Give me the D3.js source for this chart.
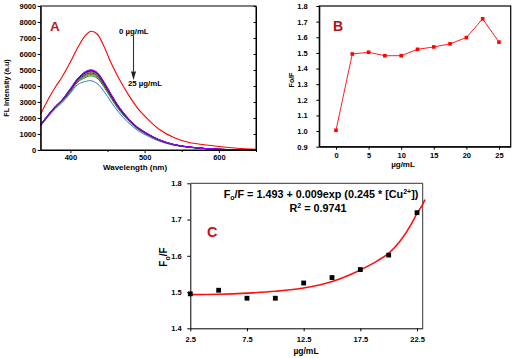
<!DOCTYPE html>
<html>
<head>
<meta charset="utf-8">
<script src="https://cdn.jsdelivr.net/npm/d3@7"></script>
<style>
  html, body { margin: 0; padding: 0; background: #fff; }
  svg { display: block; }
  text { font-family: "Liberation Sans", Arial, sans-serif; font-weight: bold; fill: #000; }
</style>
</head>
<body>
<svg id="chart" width="519" height="358"></svg>
<script>
// ---------- Panel A data : fluorescence spectra ----------
const wavelengths = [360, 370, 380, 388, 400, 410, 420, 428, 436, 445, 455, 465, 477, 490, 505, 520, 540, 560, 580, 600, 625, 650];
const fl0    = [2250, 3150, 3950, 4500, 5500, 6400, 7150, 7420, 7250, 6500, 5420, 4500, 3540, 2650, 1900, 1280, 760, 470, 330, 220, 110, 40];
const fl2_5  = [1590, 2187, 2734, 3081, 3810, 4453, 4846, 4964, 4807, 4236, 3448, 2709, 2019, 1428, 985, 630, 335, 187, 99, 44, 20, 8];
const fl5    = [1586, 2180, 2725, 3072, 3792, 4432, 4812, 4929, 4773, 4205, 3423, 2690, 2005, 1418, 978, 626, 333, 186, 98, 44, 20, 8];
const fl7_5  = [1595, 2193, 2742, 3091, 3831, 4478, 4886, 5005, 4846, 4270, 3476, 2731, 2036, 1440, 993, 636, 338, 189, 99, 45, 20, 8];
const fl10   = [1605, 2205, 2752, 3098, 3840, 4482, 4889, 5007, 4850, 4268, 3470, 2725, 2030, 1436, 990, 634, 337, 188, 99, 45, 20, 8];
const fl12_5 = [1579, 2171, 2714, 3060, 3761, 4397, 4758, 4874, 4719, 4158, 3385, 2659, 1982, 1402, 967, 619, 329, 184, 97, 44, 19, 8];
const fl15   = [1571, 2161, 2701, 3045, 3731, 4361, 4704, 4818, 4665, 4111, 3346, 2629, 1960, 1386, 956, 612, 325, 182, 96, 43, 19, 8];
const fl17_5 = [1563, 2149, 2687, 3029, 3692, 4316, 4635, 4748, 4597, 4051, 3297, 2591, 1931, 1366, 942, 603, 320, 179, 94, 42, 19, 8];
const fl20   = [1549, 2130, 2662, 3001, 3634, 4248, 4526, 4637, 4490, 3956, 3220, 2530, 1886, 1334, 920, 589, 313, 175, 92, 41, 18, 7];
const fl22_5 = [1507, 2072, 2591, 2920, 3550, 4100, 4280, 4330, 4150, 3681, 2996, 2354, 1755, 1241, 856, 548, 291, 163, 86, 39, 17, 7];
const fl25   = [1560, 2145, 2681, 3023, 3681, 4302, 4610, 4722, 4573, 4029, 3280, 2577, 1921, 1359, 937, 600, 319, 178, 94, 42, 19, 7];
const spectraLabels = ["0", "2.5", "5", "7.5", "10", "12.5", "15", "17.5", "20", "22.5", "25"];
const spectraColors = ["#ff0000", "#000000", "#0000ff", "#ff00ff", "#8000ff", "#808000", "#000080", "#b8860b", "#008000", "#3a6fd8", "#008080"];
const spectraValues = [fl0, fl2_5, fl5, fl7_5, fl10, fl12_5, fl15, fl17_5, fl20, fl22_5, fl25];
const aYTicks = [0, 1000, 2000, 3000, 4000, 5000, 6000, 7000, 8000, 9000];
const aXTicks = [400, 500, 600];

// ---------- Panel B data : Fo/F vs concentration ----------
const bConc  = [0, 2.5, 5, 7.5, 10, 12.5, 15, 17.5, 20, 22.5, 25];
const bRatio = [1.005, 1.493, 1.504, 1.482, 1.482, 1.523, 1.538, 1.558, 1.598, 1.718, 1.569];
const bYTicks = [0.9, 1.0, 1.1, 1.2, 1.3, 1.4, 1.5, 1.6, 1.7, 1.8];
const bXTicks = [0, 5, 10, 15, 20, 25];

// ---------- Panel C data : exponential fit ----------
const cConc  = [2.5, 5, 7.5, 10, 12.5, 15, 17.5, 20, 22.5];
const cRatio = [1.495, 1.505, 1.483, 1.483, 1.525, 1.540, 1.562, 1.602, 1.719];
const cFitX  = [2.5, 5, 7.5, 10, 12.5, 15, 17.5, 19, 20, 21, 22, 22.5, 23, 23.2];
const cFitY  = [1.493, 1.494, 1.497, 1.502, 1.511, 1.529, 1.561, 1.586, 1.607, 1.640, 1.688, 1.717, 1.742, 1.755];
const cYTicks = [1.4, 1.5, 1.6, 1.7, 1.8];
const cXTicks = [2.5, 7.5, 12.5, 17.5, 22.5];

const svg = d3.select("#chart");
svg.append("rect").attr("width", 519).attr("height", 358).attr("fill", "#fff");

function styleAxis(g, size) {
  g.selectAll("path").attr("stroke", "#000").attr("stroke-width", 1);
  g.selectAll("line").attr("stroke", "#000").attr("stroke-width", 1);
  g.selectAll("text").attr("font-size", size).attr("font-family", "Liberation Sans, Arial, sans-serif").attr("font-weight", "bold");
}

// =================== Panel A ===================
const xA = d3.scaleLinear().domain([360, 650]).range([40.7, 256]);
const yA = d3.scaleLinear().domain([0, 9000]).range([150, 6]);
const gA = svg.append("g");

const lineA = d3.line().x((d, i) => xA(wavelengths[i])).y(d => yA(d)).curve(d3.curveCatmullRom.alpha(0.5));
const drawOrder = [9, 8, 10, 7, 6, 5, 2, 1, 3, 4, 0];
drawOrder.forEach(k => {
  gA.append("path").datum(spectraValues[k])
    .attr("d", lineA).attr("fill", "none")
    .attr("stroke", spectraColors[k]).attr("stroke-width", k === 0 ? 1.1 : 1);
});

// frame
gA.append("rect").attr("x", xA(360)).attr("y", yA(9000))
  .attr("width", xA(650) - xA(360)).attr("height", yA(0) - yA(9000))
  .attr("fill", "none").attr("stroke", "#000").attr("stroke-width", 1);

const axAL = gA.append("g").attr("transform", `translate(${xA(360)},0)`)
  .call(d3.axisLeft(yA).tickValues(aYTicks).tickFormat(d3.format("d")).tickSize(3).tickPadding(1.5).tickSizeOuter(0));
styleAxis(axAL, 7.5);
const axAR = gA.append("g").attr("transform", `translate(${xA(650)},0)`)
  .call(d3.axisLeft(yA).tickValues(aYTicks).tickSize(2.5).tickFormat("").tickSizeOuter(0));
styleAxis(axAR, 7.5);
const axAB = gA.append("g").attr("transform", `translate(0,${yA(0)})`)
  .call(d3.axisBottom(xA).tickValues(aXTicks).tickFormat(d3.format("d")).tickSize(3).tickPadding(2).tickSizeOuter(0));
styleAxis(axAB, 7.5);
const axABm = gA.append("g").attr("transform", `translate(0,${yA(0)})`)
  .call(d3.axisBottom(xA).tickValues([450, 550, 650]).tickSize(2).tickFormat("").tickSizeOuter(0));
styleAxis(axABm, 7.5);

gA.append("text").attr("x", 135).attr("y", 169.5).attr("text-anchor", "middle")
  .attr("font-size", 8).text("Wavelength (nm)");
gA.append("text").attr("transform", "translate(9,88) rotate(-90)").attr("text-anchor", "middle")
  .attr("font-size", 7.2).text("FL Intensity (a.u)");
gA.append("text").attr("x", 50).attr("y", 30.5).attr("font-size", 13.5)
  .style("fill", "#c0161b").text("A");

// annotation arrow
gA.append("text").attr("x", 119).attr("y", 34).attr("font-size", 7.8).text("0 µg/mL");
gA.append("line").attr("x1", xA(485)).attr("x2", xA(485)).attr("y1", yA(7150)).attr("y2", yA(4900))
  .attr("stroke", "#333").attr("stroke-width", 1.1);
gA.append("path")
  .attr("d", `M${xA(485) - 2.5},${yA(4900)} L${xA(485) + 2.5},${yA(4900)} L${xA(485)},${yA(4380)} Z`)
  .attr("fill", "#222");
gA.append("text").attr("x", 128).attr("y", 86).attr("font-size", 7.8).text("25 µg/mL");

// =================== Panel B ===================
const xB = d3.scaleLinear().domain([-2.56, 26.8]).range([319.3, 510.7]);
const yB = d3.scaleLinear().domain([0.9, 1.8]).range([146.7, 6]);
const gB = svg.append("g");

gB.append("rect").attr("x", xB.range()[0]).attr("y", yB(1.8))
  .attr("width", xB.range()[1] - xB.range()[0]).attr("height", yB(0.9) - yB(1.8))
  .attr("fill", "none").attr("stroke", "#000").attr("stroke-width", 1.2);

const axBL = gB.append("g").attr("transform", `translate(${xB.range()[0]},0)`)
  .call(d3.axisLeft(yB).tickValues(bYTicks).tickFormat(d3.format(".1f")).tickSize(3).tickPadding(8.5).tickSizeOuter(0));
styleAxis(axBL, 7.5);
const axBB = gB.append("g").attr("transform", `translate(0,${yB(0.9)})`)
  .call(d3.axisBottom(xB).tickValues(bXTicks).tickFormat(d3.format("d")).tickSize(3).tickPadding(3).tickSizeOuter(0));
styleAxis(axBB, 7.5);

const lineB = d3.line().x((d, i) => xB(bConc[i])).y(d => yB(d));
gB.append("path").datum(bRatio).attr("d", lineB).attr("fill", "none")
  .attr("stroke", "#ff2020").attr("stroke-width", 1);
gB.selectAll("rect.pt").data(bRatio).enter().append("rect").attr("class", "pt")
  .attr("x", (d, i) => xB(bConc[i]) - 1.8).attr("y", d => yB(d) - 1.8)
  .attr("width", 3.6).attr("height", 3.6).attr("fill", "#ff0000");

gB.append("text").attr("x", 403).attr("y", 166.5).attr("text-anchor", "middle")
  .attr("font-size", 8).text("µg/mL");
gB.append("text").attr("transform", "translate(294,80) rotate(-90)").attr("text-anchor", "middle")
  .attr("font-size", 7).text("Fo/F");
gB.append("text").attr("x", 333).attr("y", 30.5).attr("font-size", 14)
  .style("fill", "#b01010").text("B");

// =================== Panel C ===================
const xC = d3.scaleLinear().domain([2.5, 23]).range([190.3, 422.7]);
const yC = d3.scaleLinear().domain([1.4, 1.8]).range([328.3, 183.3]);
const gC = svg.append("g");

const axCL = gC.append("g").attr("transform", `translate(${xC(2.5)},0)`)
  .call(d3.axisLeft(yC).tickValues(cYTicks).tickFormat(d3.format(".1f")).tickSize(3).tickPadding(5.5).tickSizeOuter(0));
styleAxis(axCL, 7.5);
const axCB = gC.append("g").attr("transform", `translate(0,${yC(1.4)})`)
  .call(d3.axisBottom(xC).tickValues(cXTicks).tickFormat(d3.format(".1f")).tickSize(3).tickPadding(5.5).tickSizeOuter(0));
styleAxis(axCB, 7.5);
gC.append("path")
  .attr("d", `M${xC(2.5)},${yC(1.8)} L${xC(23)},${yC(1.8)} L${xC(23)},${yC(1.4)}`)
  .attr("fill", "none").attr("stroke", "#333").attr("stroke-width", 1);

const lineC = d3.line().x((d, i) => xC(cFitX[i])).y(d => yC(d)).curve(d3.curveMonotoneX);
gC.append("path").datum(cFitY).attr("d", lineC).attr("fill", "none")
  .attr("stroke", "#ff1010").attr("stroke-width", 1.6);
gC.selectAll("rect.pt").data(cRatio).enter().append("rect").attr("class", "pt")
  .attr("x", (d, i) => xC(cConc[i]) - 2.4).attr("y", d => yC(d) - 2.4)
  .attr("width", 4.8).attr("height", 4.8).attr("fill", "#000");

const eq = gC.append("text").attr("x", 321).attr("y", 197.5).attr("text-anchor", "middle").attr("font-size", 10.8);
eq.append("tspan").text("F");
eq.append("tspan").attr("font-size", 7).attr("dy", 2).text("o");
eq.append("tspan").attr("dy", -2).text("/F = 1.493 + 0.009exp (0.245 * [Cu");
eq.append("tspan").attr("font-size", 7).attr("dy", -4).text("2+");
eq.append("tspan").attr("dy", 4).text("])");

const r2 = gC.append("text").attr("x", 318).attr("y", 211.5).attr("text-anchor", "middle").attr("font-size", 10.8);
r2.append("tspan").text("R");
r2.append("tspan").attr("font-size", 7).attr("dy", -3.5).text("2");
r2.append("tspan").attr("dy", 3.5).text(" = 0.9741");

gC.append("text").attr("x", 207).attr("y", 237).attr("font-size", 14.5)
  .style("fill", "#c81010").text("C");
gC.append("text").attr("x", 306).attr("y", 354).attr("text-anchor", "middle")
  .attr("font-size", 8.5).text("µg/mL");
const cy = gC.append("text").attr("transform", "translate(167,257) rotate(-90)").attr("text-anchor", "middle").attr("font-size", 10);
cy.append("tspan").text("F");
cy.append("tspan").attr("font-size", 7).attr("dy", 2.5).text("o");
cy.append("tspan").attr("dy", -2.5).text("/F");
</script>
</body>
</html>
